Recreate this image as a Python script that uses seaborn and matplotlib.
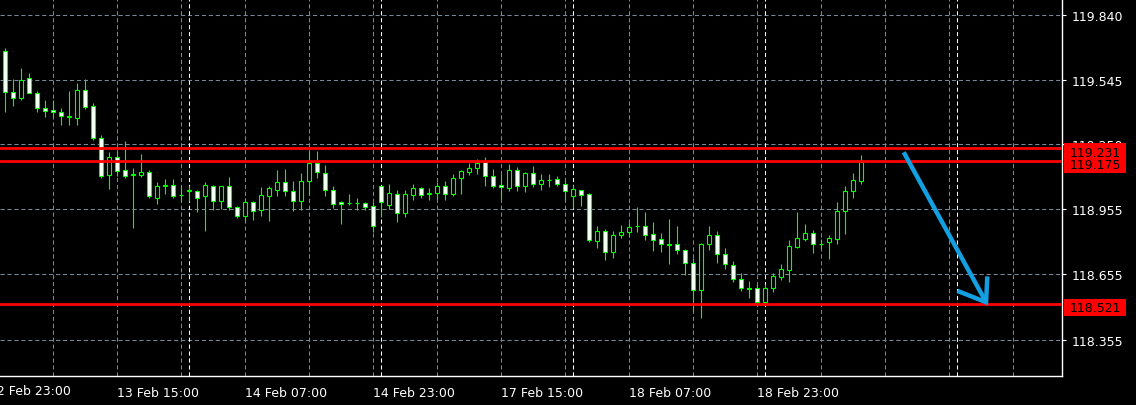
import matplotlib
matplotlib.use("Agg")
import matplotlib.pyplot as plt
import matplotlib.transforms as mtransforms
from matplotlib.patches import Rectangle
import numpy as np
import pandas as pd
import seaborn as sns

# ---------------- data (H1 candles) ----------------
opens = [119.674, 119.487, 119.462, 119.551, 119.482, 119.414, 119.406, 119.395, 119.376, 119.371,
         119.497, 119.424, 119.278, 119.110, 119.190, 119.130, 119.110, 119.110, 119.121, 119.005,
         119.063, 119.063, 119.017, 119.036, 119.035, 119.012, 119.057, 118.989, 119.057, 118.961,
         118.920, 118.984, 118.948, 119.012, 119.042, 119.076, 119.035, 118.989, 119.080, 119.164,
         119.117, 119.039, 118.984, 118.979, 118.980, 118.980, 118.966, 119.057, 118.973, 119.021,
         118.935, 119.019, 119.048, 119.023, 119.028, 119.057, 119.024, 119.097, 119.124, 119.142,
         119.167, 119.103, 119.062, 119.050, 119.130, 119.057, 119.117, 119.066, 119.085, 119.089,
         119.066, 119.014, 119.039, 119.021, 118.809, 118.852, 118.759, 118.834, 118.847, 118.874,
         118.875, 118.838, 118.815, 118.790, 118.793, 118.765, 118.706, 118.582, 118.793, 118.834,
         118.747, 118.697, 118.633, 118.591, 118.591, 118.531, 118.594, 118.644, 118.676, 118.782,
         118.818, 118.843, 118.793, 118.802, 118.818, 118.943, 119.035, 119.083]
highs = [119.688, 119.548, 119.598, 119.575, 119.494, 119.452, 119.452, 119.415, 119.494, 119.529,
         119.548, 119.438, 119.292, 119.215, 119.219, 119.264, 119.140, 119.205, 119.130, 119.076,
         119.091, 119.091, 119.057, 119.060, 119.042, 119.078, 119.063, 119.057, 119.101, 118.969,
         119.003, 118.992, 119.053, 119.057, 119.130, 119.135, 119.080, 119.118, 119.219, 119.219,
         119.153, 119.057, 118.990, 119.021, 119.003, 118.987, 118.984, 119.057, 119.068, 119.039,
         119.039, 119.068, 119.056, 119.048, 119.077, 119.080, 119.112, 119.130, 119.164, 119.182,
         119.191, 119.136, 119.114, 119.159, 119.144, 119.121, 119.150, 119.114, 119.114, 119.103,
         119.085, 119.063, 119.039, 119.025, 118.875, 118.862, 118.852, 118.881, 118.888, 118.963,
         118.940, 118.894, 118.843, 118.908, 118.876, 118.770, 118.729, 118.797, 118.875, 118.852,
         118.774, 118.715, 118.660, 118.623, 118.610, 118.610, 118.661, 118.701, 118.811, 118.940,
         118.884, 118.856, 118.817, 118.834, 118.986, 119.059, 119.118, 119.200]
lows = [119.398, 119.426, 119.453, 119.482, 119.398, 119.375, 119.375, 119.339, 119.339, 119.339,
        119.412, 119.270, 119.097, 119.045, 119.103, 119.094, 118.868, 119.099, 119.003, 118.978,
        119.024, 119.005, 118.990, 118.990, 118.939, 118.855, 118.949, 118.954, 118.949, 118.913,
        118.900, 118.905, 118.923, 118.900, 119.014, 119.014, 118.946, 118.948, 119.019, 119.094,
        119.014, 118.960, 118.884, 118.972, 118.948, 118.948, 118.850, 118.916, 118.954, 118.894,
        118.919, 118.993, 119.005, 118.993, 118.998, 118.996, 119.013, 119.024, 119.109, 119.114,
        119.060, 119.048, 118.999, 119.037, 119.036, 119.033, 119.054, 119.039, 119.054, 119.057,
        118.993, 118.957, 118.966, 118.802, 118.774, 118.722, 118.731, 118.820, 118.826, 118.849,
        118.814, 118.763, 118.757, 118.704, 118.750, 118.654, 118.489, 118.457, 118.765, 118.708,
        118.681, 118.622, 118.578, 118.549, 118.524, 118.527, 118.576, 118.631, 118.622, 118.774,
        118.809, 118.754, 118.771, 118.727, 118.795, 118.841, 119.005, 119.069]
closes = [119.487, 119.462, 119.542, 119.482, 119.414, 119.403, 119.395, 119.377, 119.375, 119.497,
          119.421, 119.278, 119.106, 119.190, 119.126, 119.106, 119.112, 119.121, 119.012, 119.059,
          119.057, 119.014, 119.018, 119.037, 119.003, 119.062, 118.989, 119.057, 118.961, 118.920,
          118.984, 118.943, 119.016, 119.048, 119.076, 119.035, 118.989, 119.080, 119.164, 119.121,
          119.039, 118.975, 118.975, 118.980, 118.980, 118.964, 118.875, 118.984, 119.025, 118.935,
          119.021, 119.048, 119.019, 119.024, 119.057, 119.024, 119.094, 119.126, 119.140, 119.164,
          119.106, 119.060, 119.053, 119.130, 119.057, 119.117, 119.066, 119.085, 119.086, 119.066,
          119.035, 119.044, 119.020, 118.814, 118.852, 118.756, 118.834, 118.847, 118.870, 118.875,
          118.834, 118.811, 118.793, 118.789, 118.765, 118.706, 118.582, 118.793, 118.834, 118.747,
          118.701, 118.633, 118.591, 118.590, 118.531, 118.591, 118.649, 118.678, 118.783, 118.820,
          118.843, 118.793, 118.794, 118.820, 118.943, 119.035, 119.085, 119.167]

xtick_positions = [-2, 14, 30, 46, 62, 78, 94]
xtick_labels = ["12 Feb 23:00", "13 Feb 15:00", "14 Feb 07:00", "14 Feb 23:00",
                "17 Feb 15:00", "18 Feb 07:00", "18 Feb 23:00"]
grid_positions = [6, 14, 22, 30, 38, 46, 54, 62, 70, 78, 86, 94, 102, 110, 118, 126]
day_separators = [23, 47, 71, 95, 119]
price_ticks = [119.840, 119.545, 119.250, 118.955, 118.655, 118.355]
level_prices = [119.231, 119.175, 118.521]
level_labels = ["119.231", "119.175", "118.521"]
# hand-drawn forecast arrow (bar index, price)
arrow_shaft_x = [112.3, 122.6]
arrow_shaft_y = [119.213, 118.528]
arrow_head_x = [119.0, 122.6, 122.75]
arrow_head_y = [118.580, 118.528, 118.646]

df = pd.DataFrame({"bar": np.arange(len(opens)), "open": opens, "high": highs,
                   "low": lows, "close": closes})

# ---------------- style ----------------
sns.set_theme(style="dark", rc={
    "figure.facecolor": "black", "axes.facecolor": "black",
    "axes.edgecolor": "white", "text.color": "white",
    "xtick.color": "white", "ytick.color": "white",
    "lines.scale_dashes": False,
})
plt.rcParams["font.family"] = ["DejaVu Sans"]

W, H = 1136, 406
fig = plt.figure(figsize=(W / 100, H / 100), dpi=100, facecolor="black")
ax = fig.add_axes([0, 29 / H, 1062 / W, 377 / H])
ax.set_facecolor("black")

XMIN, XMAX = -0.66, 132.09
YMIN, YMAX = 118.191, 119.913

GRID = "#778899"
dash = (3, 2)
for p in price_ticks:
    ax.axhline(p, color=GRID, lw=0.75, dashes=dash, zorder=0.5)
for g in grid_positions:
    ax.axvline(g, color=GRID, lw=0.75, dashes=dash, zorder=0.5)
for s in day_separators:
    ax.axvline(s, color="white", lw=0.75, dashes=dash, zorder=0.6)

LIME = "#00ff00"
# wicks
ax.vlines(df["bar"], df["low"], df["high"], color=LIME, lw=0.8, zorder=2)
# bodies
bottoms = np.minimum(df["open"], df["close"])
heights = np.maximum(np.abs(df["close"] - df["open"]), 0.003)
fills = np.where(df["close"] > df["open"], "black", "white")
ax.bar(df["bar"], heights, bottom=bottoms, width=0.5, color=fills,
       edgecolor=LIME, linewidth=0.8, zorder=3)

# horizontal support / resistance lines
for p in level_prices:
    ax.axhline(p, color="#ff0000", lw=2.0, zorder=4)

# arrow
ARROW = "#12a0e2"
ax.plot(arrow_shaft_x, arrow_shaft_y, color=ARROW, lw=3.2, solid_capstyle="butt", zorder=5)
ax.plot(arrow_head_x, arrow_head_y, color=ARROW, lw=3.2, solid_capstyle="butt",
        solid_joinstyle="miter", zorder=5)

# spines
sns.despine(ax=ax, left=True, top=True, right=False, bottom=False)
for sp in ("right", "bottom"):
    ax.spines[sp].set_color("white")
    ax.spines[sp].set_linewidth(1.0)
ax.grid(False)

# y axis on the right
ax.yaxis.tick_right()
ax.set_yticks(price_ticks)
ax.set_yticklabels([f"{p:.3f}" for p in price_ticks])
ax.tick_params(axis="y", colors="white", length=3, width=0.8, pad=4, labelsize=9,
               direction="out")

# x axis
ax.set_xticks(xtick_positions)
ax.set_xticklabels(xtick_labels)
minor = sorted(set(grid_positions + day_separators) - set(xtick_positions))
ax.set_xticks(minor, minor=True)
ax.tick_params(axis="x", which="major", colors="white", length=3, width=0.8,
               direction="out", pad=4, labelsize=9)
ax.tick_params(axis="x", which="minor", colors="white", length=3, width=0.8,
               direction="in")
for lab in ax.get_xticklabels():
    lab.set_horizontalalignment("left")

# limits last (set_xticks would otherwise widen them)
ax.set_xlim(XMIN, XMAX)
ax.set_ylim(YMIN, YMAX)

# labels whose bar lies left of the visible range are still drawn (cut by the edge)
xblend = mtransforms.blended_transform_factory(ax.transData, ax.transAxes)
for pos, lab in zip(xtick_positions, xtick_labels):
    if pos < XMIN:
        ax.text(pos, -15 / 377, lab, transform=xblend, color="white", fontsize=9,
                ha="left", va="center", clip_on=False)

# red price labels on the axis
blend = mtransforms.blended_transform_factory(fig.transFigure, ax.transData)
ppu = 377 / (YMAX - YMIN)  # pixels per price unit
for p, lab in zip(level_prices, level_labels):
    top = p + 5 / ppu
    bot = p - 12 / ppu
    rect = Rectangle((1064 / W, bot), 62 / W, top - bot, transform=blend,
                     facecolor="#ff0000", edgecolor="none", zorder=10)
    fig.add_artist(rect)
    fig.text(1070 / W, p - 4 / ppu, lab, transform=blend, color="black",
             fontsize=9, va="center", ha="left", zorder=11)

fig.savefig("out.png", dpi=100, facecolor="black")
